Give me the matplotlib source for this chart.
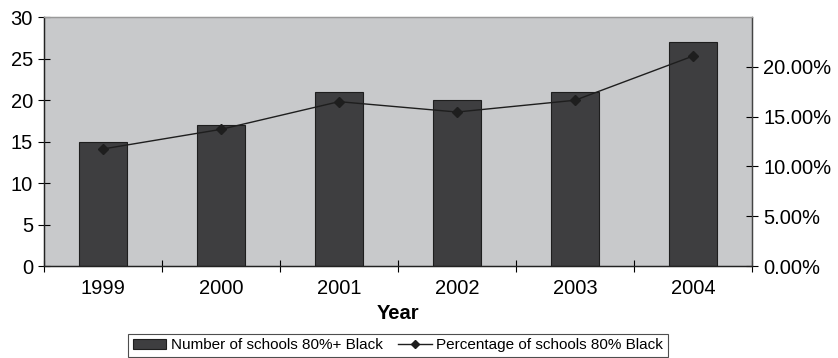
import numpy as np
import matplotlib.pyplot as plt
from matplotlib.ticker import FixedLocator, PercentFormatter

plt.rcParams['font.family'] = ['Liberation Sans', 'DejaVu Sans']

years = ['1999', '2000', '2001', '2002', '2003', '2004']
schools = [15, 17, 21, 20, 21, 27]
pct_black = [0.1175, 0.1372, 0.1650, 0.1546, 0.1664, 0.2108]

fig = plt.figure(figsize=(8.38, 3.58), dpi=100)
ax = fig.add_axes([44 / 838, 1 - 266 / 358, (752 - 44) / 838, (266 - 17) / 358])
ax.set_facecolor('#c8c9cb')

x = np.arange(len(years))
bars = ax.bar(x, schools, width=0.4, color='#3e3e40', edgecolor='#1e1e1e',
              linewidth=0.8, label='Number of schools 80%+ Black', zorder=2)
ax.set_xlim(-0.5, len(years) - 0.5)
ax.set_ylim(0, 30)
ax.set_yticks(range(0, 31, 5))
ax.set_xticks(x)
ax.set_xticklabels(years)
# category boundaries get the tick marks, labels sit between them
ax.xaxis.set_minor_locator(FixedLocator(np.arange(-0.5, len(years), 1)))
ax.tick_params(axis='x', which='major', length=0, labelsize=14.5, pad=9)
ax.tick_params(axis='x', which='minor', direction='inout', length=8, width=0.8)
ax.tick_params(axis='y', direction='inout', length=8, width=0.8, labelsize=14.5, pad=4)
ax.set_xlabel('Year', fontsize=14.5, fontweight='bold', labelpad=5)

ax2 = ax.twinx()
line, = ax2.plot(x, pct_black, color='#1e1e1e', linewidth=1.0, marker='D',
                 markersize=5, label='Percentage of schools 80% Black', zorder=3)
ax2.set_ylim(0, 0.25)
ax2.set_yticks(np.arange(0, 0.21, 0.05))
ax2.yaxis.set_major_formatter(PercentFormatter(1.0, decimals=2))
ax2.tick_params(axis='y', direction='inout', length=8, width=0.8, labelsize=14.5, pad=4)

for a in (ax, ax2):
    a.spines['top'].set_color('#999999')
    a.spines['left'].set_color('#222222')
    a.spines['bottom'].set_color('#222222')
    a.spines['right'].set_color('#444444')
    for s in a.spines.values():
        s.set_linewidth(0.9)

leg = fig.legend([bars, line], [bars.get_label(), line.get_label()],
                 loc='lower center', bbox_to_anchor=(398 / 838, -0.018), ncol=2,
                 fontsize=11, frameon=True, fancybox=False, handlelength=2.2,
                 handletextpad=0.3, columnspacing=1.0, borderpad=0.3,
                 markerscale=0.8)
leg.get_frame().set_edgecolor('#222222')
leg.get_frame().set_linewidth(0.8)

fig.savefig('out.png', dpi=100)
